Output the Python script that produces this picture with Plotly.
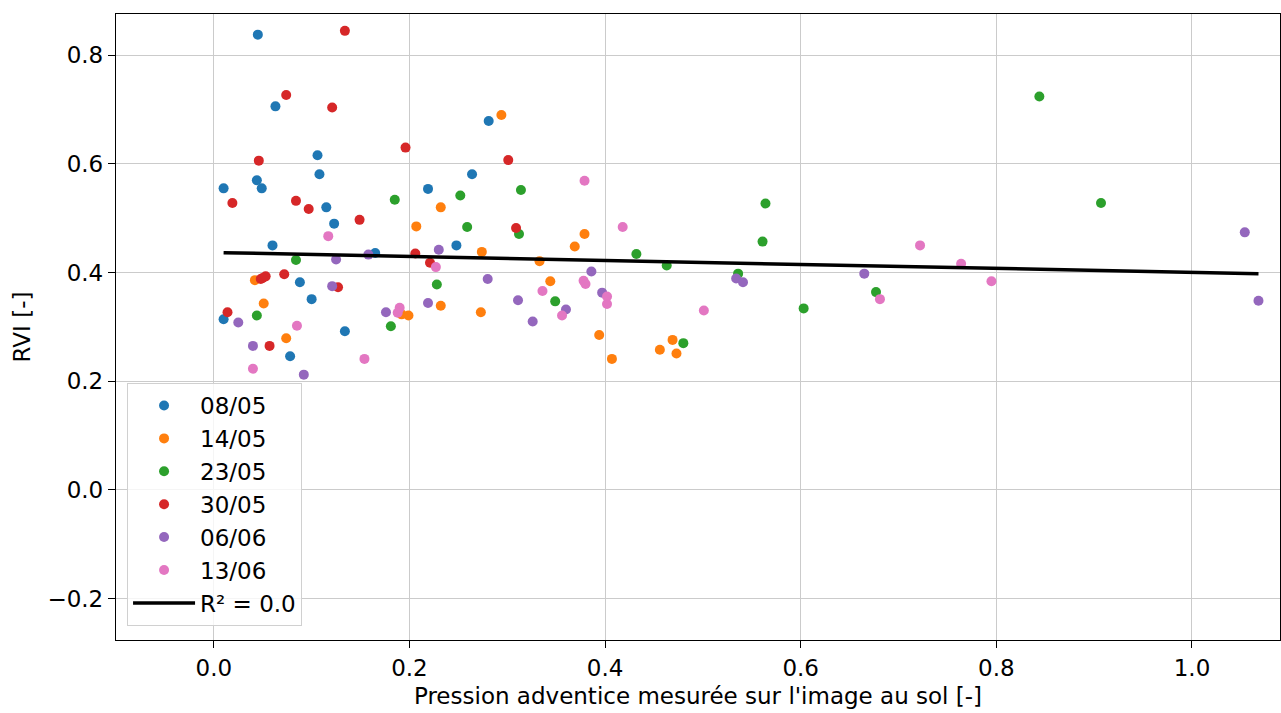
import numpy as np
import plotly.graph_objects as go

dates = ["08/05", "14/05", "23/05", "30/05", "06/06", "13/06"]
colors = ["#1f77b4", "#ff7f0e", "#2ca02c", "#d62728", "#9467bd", "#e377c2"]

x_0805 = [0.045, 0.063, 0.106, 0.108, 0.044, 0.049, 0.010, 0.115, 0.123, 0.060,
          0.165, 0.088, 0.100, 0.010, 0.134, 0.078, 0.281, 0.264, 0.219, 0.248]
y_0805 = [0.838, 0.706, 0.616, 0.581, 0.570, 0.555, 0.555, 0.520, 0.490, 0.450,
          0.436, 0.382, 0.351, 0.314, 0.292, 0.246, 0.679, 0.581, 0.554, 0.450]

x_1405 = [0.042, 0.051, 0.074, 0.192, 0.199, 0.207, 0.232, 0.232, 0.273, 0.274,
          0.294, 0.333, 0.344, 0.369, 0.379, 0.394, 0.407, 0.456, 0.469, 0.473]
y_1405 = [0.386, 0.343, 0.279, 0.323, 0.321, 0.485, 0.520, 0.339, 0.327, 0.438,
          0.690, 0.421, 0.384, 0.448, 0.471, 0.285, 0.241, 0.258, 0.276, 0.251]

x_2305 = [0.185, 0.084, 0.044, 0.181, 0.252, 0.314, 0.259, 0.312, 0.432, 0.463,
          0.228, 0.349, 0.480, 0.844, 0.564, 0.907, 0.561, 0.536, 0.677, 0.603]
y_2305 = [0.534, 0.423, 0.321, 0.301, 0.542, 0.552, 0.484, 0.471, 0.434, 0.413,
          0.378, 0.347, 0.270, 0.724, 0.527, 0.528, 0.457, 0.398, 0.364, 0.334]

x_3005 = [0.134, 0.074, 0.121, 0.196, 0.046, 0.019, 0.084, 0.097, 0.149, 0.301,
          0.309, 0.206, 0.221, 0.048, 0.050, 0.053, 0.072, 0.127, 0.014, 0.057]
y_3005 = [0.845, 0.727, 0.704, 0.630, 0.606, 0.528, 0.532, 0.517, 0.497, 0.607,
          0.482, 0.435, 0.418, 0.388, 0.390, 0.393, 0.397, 0.373, 0.327, 0.265]

x_0606 = [0.125, 0.158, 0.121, 0.176, 0.025, 0.040, 0.092, 0.230, 0.386, 0.280,
          0.397, 0.219, 0.311, 0.360, 0.326, 0.534, 0.541, 0.665, 1.054, 1.068]
y_0606 = [0.424, 0.433, 0.375, 0.327, 0.308, 0.265, 0.212, 0.442, 0.402, 0.388,
          0.363, 0.344, 0.349, 0.332, 0.310, 0.389, 0.382, 0.398, 0.474, 0.348]

x_1306 = [0.117, 0.085, 0.040, 0.154, 0.190, 0.188, 0.379, 0.418, 0.227, 0.378,
          0.380, 0.336, 0.402, 0.402, 0.356, 0.722, 0.764, 0.795, 0.681, 0.501]
y_1306 = [0.467, 0.302, 0.223, 0.241, 0.335, 0.326, 0.569, 0.484, 0.410, 0.385,
          0.379, 0.366, 0.356, 0.342, 0.321, 0.450, 0.416, 0.384, 0.351, 0.330]

xs = [x_0805, x_1405, x_2305, x_3005, x_0606, x_1306]
ys = [y_0805, y_1405, y_2305, y_3005, y_0606, y_1306]

FS = 23

fig = go.Figure()
for d, c, xv, yv in zip(dates, colors, xs, ys):
    fig.add_trace(go.Scatter(x=xv, y=yv, mode="markers", name=d, legendgroup=d,
                             marker=dict(color=c, size=10, line=dict(width=0))))

all_x = np.concatenate([np.array(v) for v in xs])
all_y = np.concatenate([np.array(v) for v in ys])
slope, intercept = np.polyfit(all_x, all_y, 1)
pred = slope * all_x + intercept
r2 = 1 - np.sum((all_y - pred) ** 2) / np.sum((all_y - all_y.mean()) ** 2)
order = np.argsort(all_x)
fig.add_trace(go.Scatter(x=all_x[order], y=pred[order], mode="lines", legendgroup="fit",
                         name=f"R² = {r2:.1f}", line=dict(color="black", width=3.5)))

axis_common = dict(showline=True, linecolor="black", linewidth=1.3, mirror=True,
                   ticks="outside", ticklen=7, tickwidth=1.3, tickcolor="black",
                   showgrid=True, gridcolor="#cbcbcb", gridwidth=1, zeroline=False,
                   tickfont=dict(size=FS, color="black"), tickformat=".1f")

fig.update_layout(
    width=1281, height=713,
    margin=dict(l=116, r=1, t=14, b=73),
    paper_bgcolor="white", plot_bgcolor="white",
    font=dict(family="DejaVu Sans", size=FS, color="black"),
    showlegend=True,
    legend=dict(x=0.0095, y=0.4105, xanchor="left", yanchor="top",
                bgcolor="rgba(255,255,255,0.8)", bordercolor="#d0d0d0", borderwidth=1,
                font=dict(size=FS), itemwidth=62, tracegroupgap=0),
    xaxis=dict(range=[-0.1, 1.09], dtick=0.2, tick0=0,
               title=dict(text="Pression adventice mesurée sur l'image au sol [-]", font=dict(size=FS), standoff=8),
               **axis_common),
    yaxis=dict(range=[-0.2765, 0.876], dtick=0.2, tick0=0,
               title=dict(text="RVI [-]", font=dict(size=FS), standoff=10),
               **axis_common),
)

fig.write_html("out.html")
